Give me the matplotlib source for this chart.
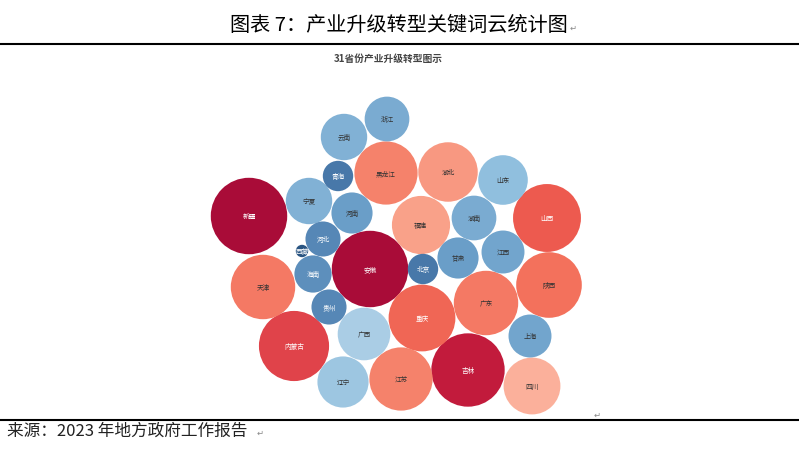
import numpy as np
import matplotlib
matplotlib.use("Agg")
import matplotlib.pyplot as plt
from matplotlib.patches import Circle
from matplotlib.colors import LinearSegmentedColormap

plt.rcParams['font.family'] = ['Noto Sans CJK SC', 'DejaVu Sans']

# Keyword counts per province
provinces = ['新疆', '安徽', '吉林', '内蒙古', '山西', '重庆', '陕西', '天津', '广东',
             '黑龙江', '江苏', '湖北', '福建', '四川', '广西', '辽宁', '山东', '宁夏',
             '云南', '浙江', '湖南', '上海', '江西', '甘肃', '河南', '海南', '贵州',
             '河北', '北京', '青海', '西藏']
counts = [38, 38, 35, 32, 30, 29, 28, 27, 27,
          26, 26, 23, 22, 21, 18, 17, 16, 14,
          14, 13, 13, 12, 12, 11, 11, 9, 8,
          8, 6, 6, 1]

# Packed-bubble layout positions (layout units)
bx = [249, 370, 468, 294, 547, 422, 549, 263, 486,
      386, 401, 448, 421, 532, 364, 343, 503, 309,
      344, 387, 474, 530, 503, 458, 352, 313, 329,
      323, 423, 338, 302]
by = [217, 270, 371, 347, 219, 319, 286, 288, 304,
      174, 380, 173, 226, 387, 335, 383, 181, 202,
      138, 120, 219, 337, 253, 259, 214, 275, 308,
      240, 270, 177, 252]

# colour ramp (blue -> red), Tableau-like red/blue diverging
cmap = LinearSegmentedColormap.from_list('rb', [
    (0.00, '#2a5582'), (0.14, '#4a7aab'), (0.27, '#6a9ec8'),
    (0.41, '#92c0df'), (0.47, '#b0d0e6'), (0.53, '#fcb6a2'),
    (0.57, '#f9a088'), (0.68, '#f5806a'), (0.74, '#f26e59'),
    (0.78, '#ee5c4f'), (0.84, '#e0434a'), (0.92, '#c21b3c'),
    (1.00, '#a90c38')])

fig = plt.figure(figsize=(7.99, 4.52), dpi=100)
ax = fig.add_axes([0, 0, 1, 1])
ax.set_xlim(0, 799)
ax.set_ylim(452, 0)
ax.axis('off')

vals = np.array(counts, dtype=float)
radii = 6.2 * np.sqrt(vals)
norm = (vals - vals.min()) / (vals.max() - vals.min())

for name, v, x, y, r, n in zip(provinces, vals, bx, by, radii, norm):
    col = cmap(n)
    ax.add_patch(Circle((x, y), r, facecolor=col, edgecolor='none'))
    tc = 'white' if (v <= 9 or v >= 29) else '#333333'
    ax.text(x, y, name, ha='center', va='center', fontsize=4.8, color=tc)

# page header / footer
ax.text(399, 25, '图表 7：产业升级转型关键词云统计图', ha='center', va='center',
        fontsize=14.5, fontweight='medium', color='black')
ax.text(573, 28, '↵', ha='center', va='center', fontsize=6, color='#888888')
ax.plot([0, 799], [45, 45], color='black', lw=1.5)
ax.text(388, 58.5, '31省份产业升级转型图示', ha='center', va='center',
        fontsize=7, fontweight='bold', color='#444444')
ax.text(597, 415, '↵', ha='center', va='center', fontsize=6, color='#888888')
ax.plot([0, 799], [421, 421], color='black', lw=1.5)
ax.text(7, 431, '来源：2023 年地方政府工作报告', ha='left', va='center',
        fontsize=12, color='#222222')
ax.text(260, 433, '↵', ha='center', va='center', fontsize=6, color='#888888')

fig.savefig('out.png', dpi=100)
